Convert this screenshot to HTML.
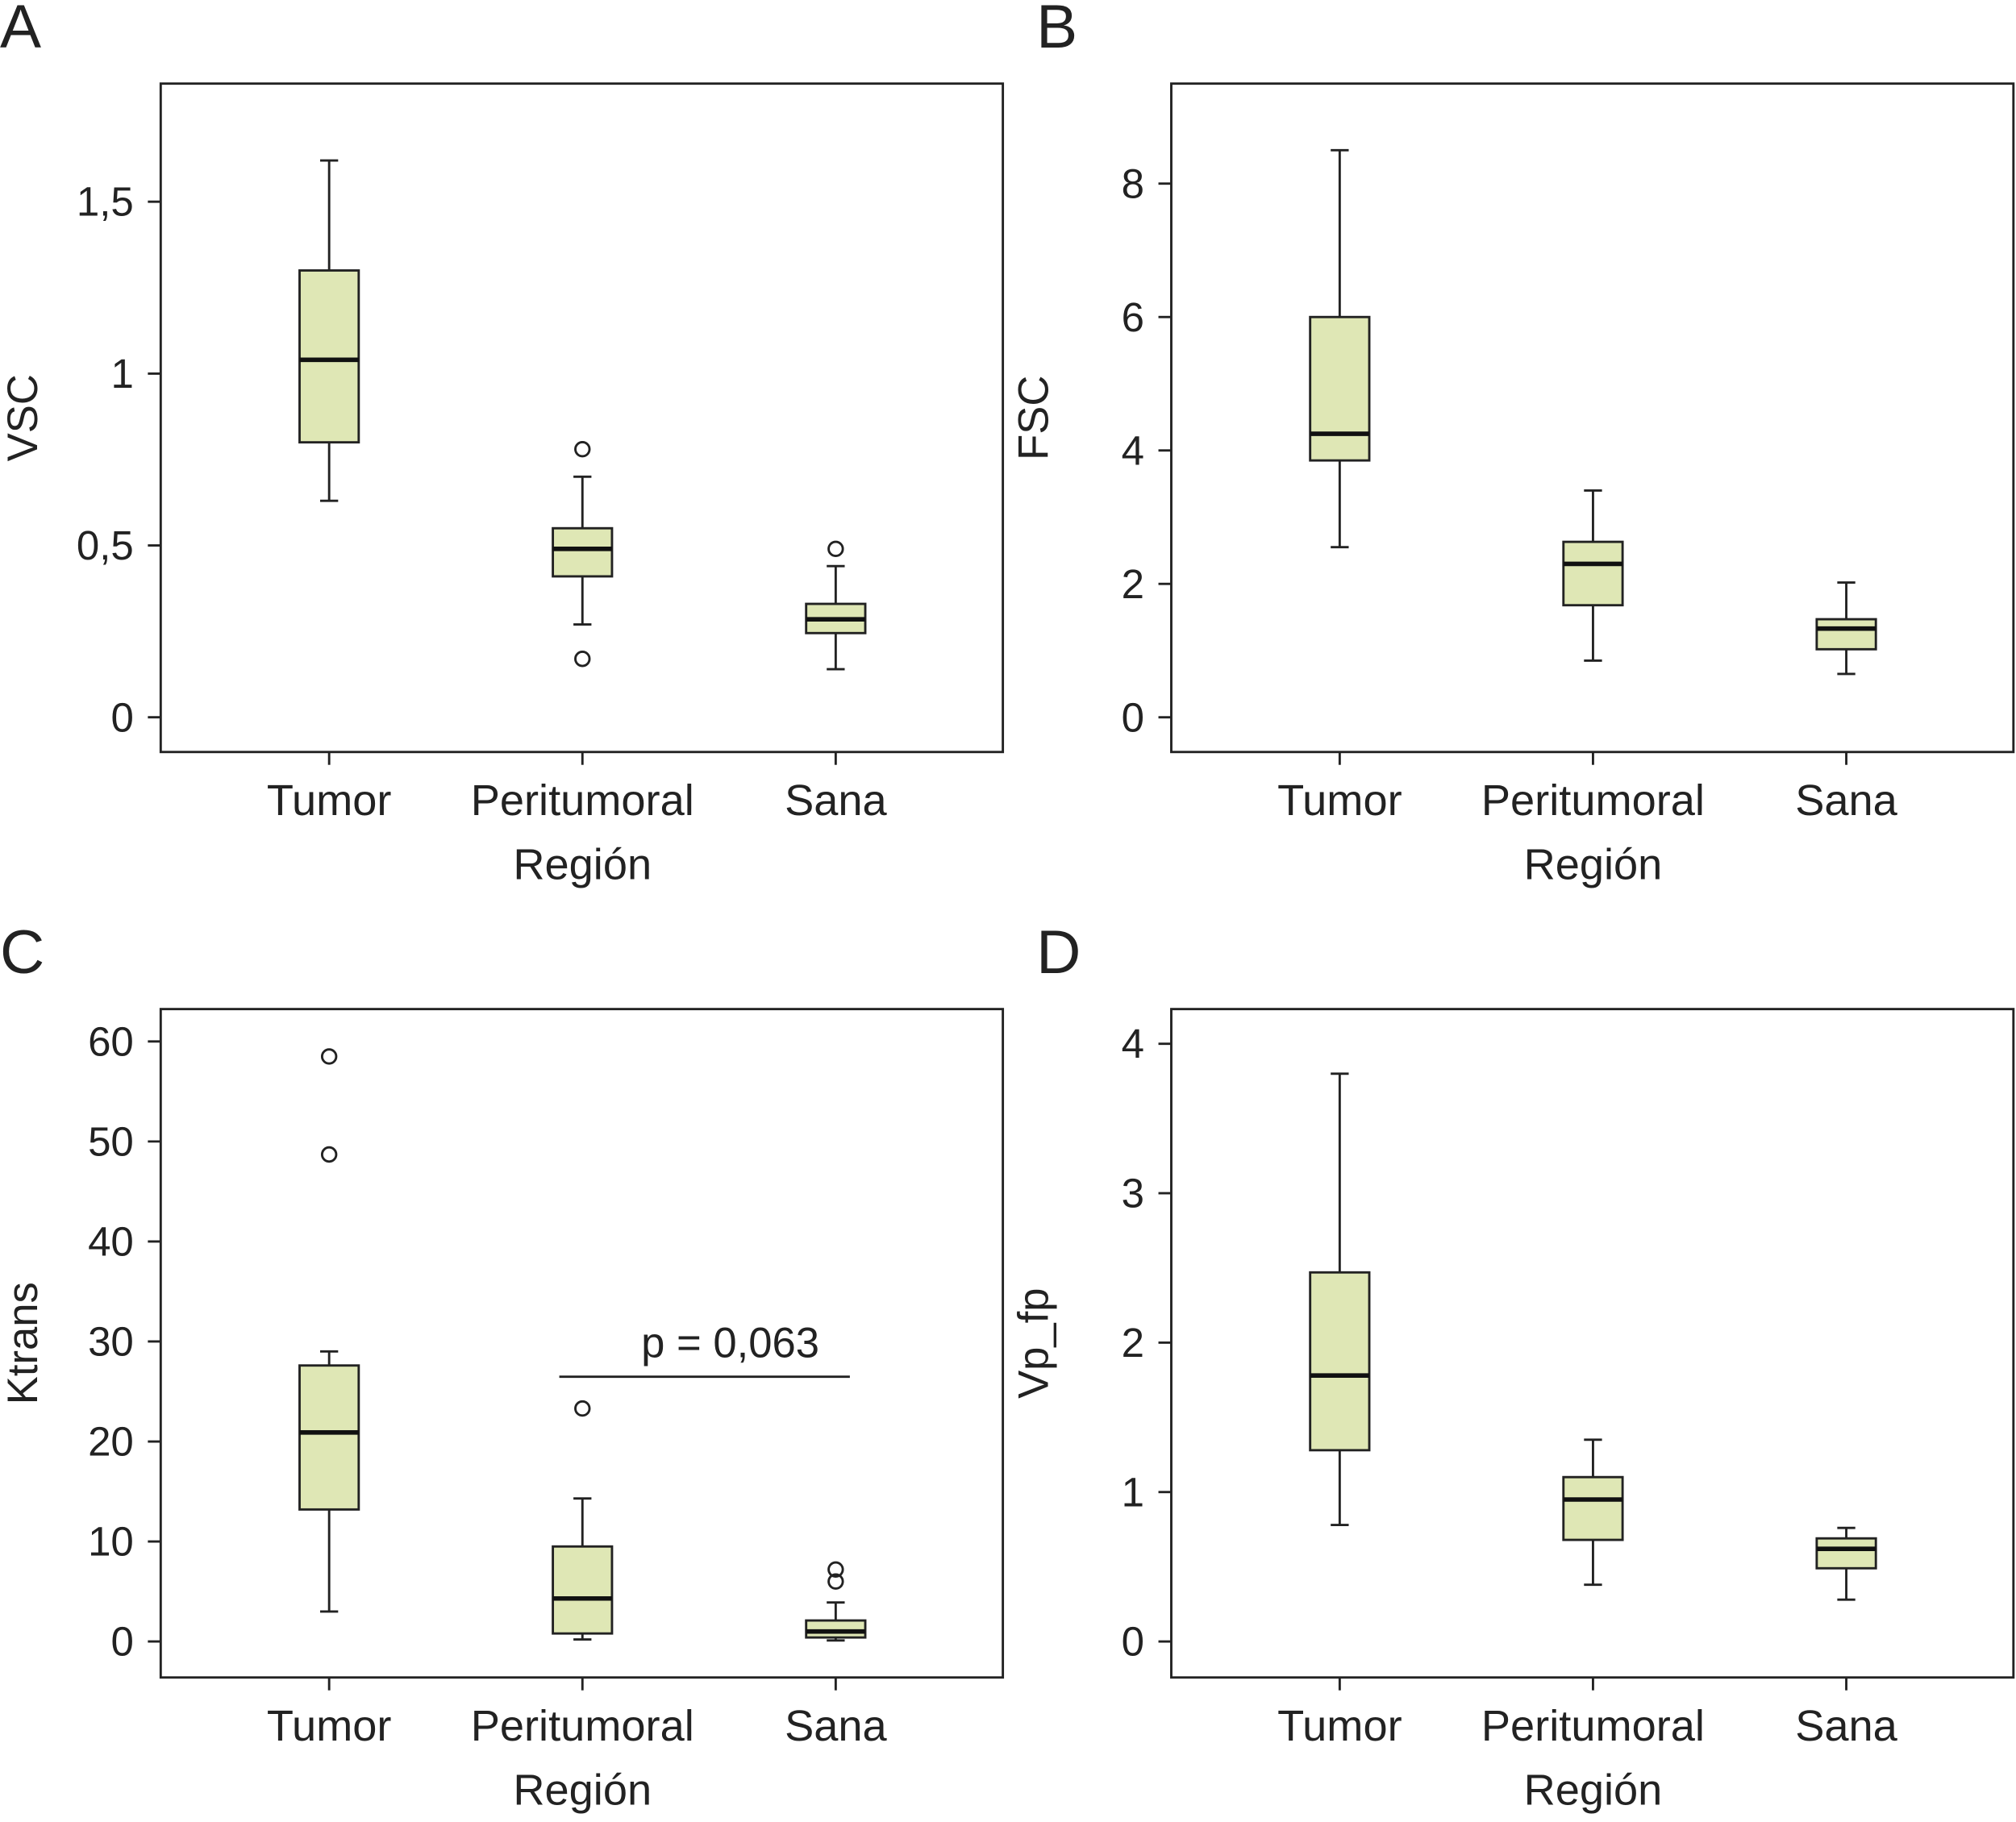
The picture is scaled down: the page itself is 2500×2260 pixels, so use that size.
<!DOCTYPE html>
<html><head><meta charset="utf-8"><style>body{margin:0;background:#fff}svg{display:block}text{font-family:"Liberation Sans",sans-serif;fill:#222}</style></head>
<body>
<svg id="s" width="2500" height="2260" viewBox="0 0 1568 1417.4" xmlns="http://www.w3.org/2000/svg"></svg>
<script>
const categories = ["Tumor","Peritumoral","Sana"];
// each: [whiskerLow, q1, median, q3, whiskerHigh]
const vscStats = [[0.63,0.80,1.04,1.30,1.62],[0.27,0.41,0.49,0.55,0.70],[0.14,0.245,0.285,0.33,0.44]];
const vscOutliers = [[],[0.78,0.17],[0.49]];
const fscStats = [[2.55,3.85,4.25,6.0,8.5],[0.85,1.68,2.3,2.63,3.4],[0.65,1.02,1.33,1.47,2.02]];
const fscOutliers = [[],[],[]];
const ktransStats = [[3,13.2,20.9,27.6,29],[0.2,0.8,4.3,9.5,14.3],[0.1,0.4,1.0,2.1,3.9]];
const ktransOutliers = [[58.5,48.7],[23.3],[6,7.2]];
const vpStats = [[0.78,1.28,1.78,2.47,3.8],[0.38,0.68,0.95,1.1,1.35],[0.28,0.49,0.62,0.69,0.76]];
const vpOutliers = [[],[],[]];
const vscTicks = [0,0.5,1,1.5], vscTickLabels = ["0","0,5","1","1,5"];
const fscTicks = [0,2,4,6,8], fscTickLabels = ["0","2","4","6","8"];
const ktransTicks = [0,10,20,30,40,50,60], ktransTickLabels = ["0","10","20","30","40","50","60"];
const vpTicks = [0,1,2,3,4], vpTickLabels = ["0","1","2","3","4"];

const NS="http://www.w3.org/2000/svg", svg=document.getElementById('s');
function mk(tag,attrs,parent,txt){const e=document.createElementNS(NS,tag);for(const k in attrs)e.setAttribute(k,attrs[k]);if(txt!==undefined)e.textContent=txt;(parent||svg).appendChild(e);return e;}

function panel(cfg){
  const g=mk('g',{});
  
  
  const {x0,x1,y0,y1,zeroY,unitPx}=cfg;
  const y=v=>zeroY-v*unitPx;
  const xc=i=>x0+131+i*197;
  const L=mk('text',{x:cfg.lx,y:cfg.ly,'font-size':48},g,cfg.letter);
  
  
  const fr=mk('rect',{x:x0,y:y0,width:x1-x0,height:y1-y0,fill:'none',stroke:'#222','stroke-width':1.8},g);
  
  
  cfg.ticks.forEach((t,i)=>{
    mk('line',{x1:x0-10,x2:x0,y1:y(t),y2:y(t),stroke:'#222','stroke-width':1.8},g);
    const tl=mk('text',{x:x0-21,y:y(t)+11,'font-size':32,'text-anchor':'end'},g,cfg.tickLabels[i]);
    
    
  });
  const cy=(y0+y1)/2;
  const yt=mk('text',{x:0,y:0,'font-size':33,'text-anchor':'middle',transform:`translate(${x0-96},${cy}) rotate(-90)`},g,cfg.yTitle);
  
  
  categories.forEach((c,i)=>{
    mk('line',{x1:xc(i),x2:xc(i),y1:y1,y2:y1+10,stroke:'#222','stroke-width':1.8},g);
    const cl=mk('text',{x:xc(i),y:y1+49,'font-size':34,'text-anchor':'middle'},g,c);
    
    
    const s=cfg.stats[i];
    const bg=mk('g',{},g);
    
    
    mk('line',{x1:xc(i),x2:xc(i),y1:y(s[0]),y2:y(s[1]),stroke:'#222','stroke-width':1.8},bg);
    mk('line',{x1:xc(i),x2:xc(i),y1:y(s[3]),y2:y(s[4]),stroke:'#222','stroke-width':1.8},bg);
    mk('line',{x1:xc(i)-7,x2:xc(i)+7,y1:y(s[0]),y2:y(s[0]),stroke:'#222','stroke-width':1.8},bg);
    mk('line',{x1:xc(i)-7,x2:xc(i)+7,y1:y(s[4]),y2:y(s[4]),stroke:'#222','stroke-width':1.8},bg);
    mk('rect',{x:xc(i)-23,y:y(s[3]),width:46,height:y(s[1])-y(s[3]),fill:'#dfe7b5',stroke:'#222','stroke-width':1.8},bg);
    mk('line',{x1:xc(i)-23,x2:xc(i)+23,y1:y(s[2]),y2:y(s[2]),stroke:'#111','stroke-width':3.5},bg);
    cfg.outliers[i].forEach(o=>{
      const oc=mk('circle',{cx:xc(i),cy:y(o),r:5.5,fill:'none',stroke:'#222','stroke-width':1.8},bg);
      
      
    });
  });
  if(cfg.xTitle){
    const xt=mk('text',{x:xc(1),y:y1+99,'font-size':34,'text-anchor':'middle'},g,'Región');
    
    
  }
  return g;
}
panel({letter:'A',lx:0,ly:37,x0:125,x1:780,y0:65,y1:585,zeroY:558,unitPx:267.4,ticks:vscTicks,tickLabels:vscTickLabels,yTitle:'VSC',stats:vscStats,outliers:vscOutliers,xTitle:true});
panel({letter:'B',lx:806,ly:37,x0:911,x1:1566,y0:65,y1:585,zeroY:558,unitPx:51.9,ticks:fscTicks,tickLabels:fscTickLabels,yTitle:'FSC',stats:fscStats,outliers:fscOutliers,xTitle:true});
panel({letter:'C',lx:0,ly:757,x0:125,x1:780,y0:785,y1:1305,zeroY:1277,unitPx:7.78,ticks:ktransTicks,tickLabels:ktransTickLabels,yTitle:'Ktrans',stats:ktransStats,outliers:ktransOutliers,xTitle:true});
panel({letter:'D',lx:806,ly:757,x0:911,x1:1566,y0:785,y1:1305,zeroY:1277,unitPx:116.25,ticks:vpTicks,tickLabels:vpTickLabels,yTitle:'Vp_fp',stats:vpStats,outliers:vpOutliers,xTitle:true});
const pl=mk('line',{x1:435,x2:661,y1:1071,y2:1071,stroke:'#222','stroke-width':1.8});


const pt=mk('text',{x:568,y:1056,'font-size':33,'text-anchor':'middle'},svg,'p = 0,063');


</script>
</body></html>
